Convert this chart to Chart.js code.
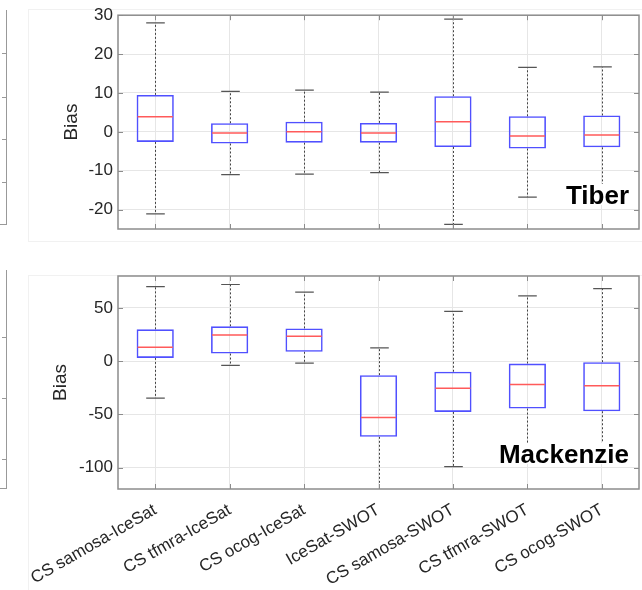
<!DOCTYPE html>
<html>
<head>
<meta charset="utf-8">
<script src="https://cdn.jsdelivr.net/npm/chart.js@4.4.1/dist/chart.umd.min.js"></script>
<style>
  body { margin: 0; background: #fff; }
  #wrap { position: relative; width: 642px; height: 590px; overflow: hidden; background: #fff; }
  canvas { position: absolute; left: 0; }
  .fig { position: absolute; border: 1px solid #f1f1f1; }
  .stub { position: absolute; border-right: 1.5px solid #999; border-bottom: 1.5px solid #999; }
  .stubtick { position: absolute; height: 1px; width: 5px; background: #999; }
</style>
</head>
<body>
<div id="wrap">
  <!-- faint figure frames and the cropped neighbour axes on the far left -->
  <div class="fig" style="left:28px; top:9px; width:620px; height:231px;"></div>
  <div class="fig" style="left:28px; top:275px; width:620px; height:330px;"></div>
  <div class="stub" style="left:-10px; top:10px; width:16px; height:214px;"></div>
  <div class="stub" style="left:-10px; top:270px; width:16px; height:218px;"></div>
  <div class="stubtick" style="left:2px; top:53px;"></div>
  <div class="stubtick" style="left:2px; top:97px;"></div>
  <div class="stubtick" style="left:2px; top:139px;"></div>
  <div class="stubtick" style="left:2px; top:182px;"></div>
  <div class="stubtick" style="left:2px; top:337px;"></div>
  <div class="stubtick" style="left:2px; top:398px;"></div>
  <div class="stubtick" style="left:2px; top:459px;"></div>

  <canvas id="tiber" width="642" height="250" style="top:0px;"></canvas>
  <canvas id="mack" width="642" height="340" style="top:250px;"></canvas>
</div>

<script>
const categories = [
    'CS samosa-IceSat',
    'CS tfmra-IceSat',
    'CS ocog-IceSat',
    'IceSat-SWOT',
    'CS samosa-SWOT',
    'CS tfmra-SWOT',
    'CS ocog-SWOT'
];

// Tiber (upper panel)
const tiberMin = [-21.1, -11.0, -10.9, -10.5, -23.8, -16.8, -17.0];
const tiberQ1  = [-2.6, -3.0, -2.8, -2.8, -3.9, -4.3, -4.0];
const tiberMed = [3.85, -0.3, 0.0, -0.3, 2.6, -1.1, -0.85];
const tiberQ3  = [9.5, 2.2, 2.6, 2.3, 9.15, 4.0, 4.2];
const tiberMax = [28.0, 10.4, 10.7, 10.2, 29.0, 16.6, 16.7];
const tiberTicks = [-20, -10, 0, 10, 20, 30];

// Mackenzie (lower panel)
const mackMin = [-34.6, -4.0, -1.9, -130, -99.0, -94.7, -95.0];
const mackQ1  = [3.1, 7.2, 8.8, -71.0, -47.6, -44.5, -47.0];
const mackMed = [13.1, 24.6, 23.4, -52.9, -25.5, -21.8, -23.0];
const mackQ3  = [29.9, 32.7, 30.8, -13.1, -9.9, -2.2, -0.9];
const mackMax = [70.1, 72.0, 64.8, 12.5, 46.7, 61.4, 68.2];
const mackTicks = [-100, -50, 0, 50];

const FONT = "'Liberation Sans', Arial, Helvetica, sans-serif";
const FRAME = '#8c8c8c';

// whiskers, caps, medians, box frame, inward ticks and river name
const boxExtras = {
    id: 'boxExtras',
    beforeDatasetsDraw(chart, args, o) {
        const ctx = chart.ctx, x = chart.scales.x, y = chart.scales.y, a = chart.chartArea;
        const half = chart.getDatasetMeta(0).data[0].width / 2;
        ctx.save();
        ctx.beginPath();
        ctx.rect(a.left, a.top, a.right - a.left, a.bottom - a.top);
        ctx.clip();
        for (let i = 0; i < categories.length; i++) {
            const px = Math.round(x.getPixelForValue(i)) + 0.5;
            ctx.strokeStyle = '#444';
            ctx.lineWidth = 1;
            ctx.setLineDash([2, 2]);
            ctx.beginPath();
            ctx.moveTo(px, y.getPixelForValue(o.q3[i]));
            ctx.lineTo(px, y.getPixelForValue(o.max[i]));
            ctx.moveTo(px, y.getPixelForValue(o.q1[i]));
            ctx.lineTo(px, y.getPixelForValue(o.min[i]));
            ctx.stroke();
            ctx.setLineDash([]);
            ctx.strokeStyle = '#555';
            ctx.lineWidth = 1.2;
            ctx.beginPath();
            [o.max[i], o.min[i]].forEach(v => {
                const py = y.getPixelForValue(v);
                ctx.moveTo(px - half / 2, py);
                ctx.lineTo(px + half / 2, py);
            });
            ctx.stroke();
        }
        ctx.restore();
    },
    afterDatasetsDraw(chart, args, o) {
        const ctx = chart.ctx, x = chart.scales.x, y = chart.scales.y, a = chart.chartArea;
        const half = chart.getDatasetMeta(0).data[0].width / 2;
        ctx.save();
        // medians
        ctx.strokeStyle = 'rgb(255,90,90)';
        ctx.lineWidth = 1.5;
        ctx.beginPath();
        for (let i = 0; i < categories.length; i++) {
            const px = x.getPixelForValue(i);
            const py = y.getPixelForValue(o.med[i]);
            ctx.moveTo(px - half + 1, py);
            ctx.lineTo(px + half - 1, py);
        }
        ctx.stroke();

        // matlab style ticks pointing inside
        ctx.strokeStyle = FRAME;
        ctx.lineWidth = 1;
        ctx.beginPath();
        y.ticks.forEach(t => {
            const py = Math.round(y.getPixelForValue(t.value)) + 0.5;
            ctx.moveTo(a.left, py); ctx.lineTo(a.left + 5, py);
            ctx.moveTo(a.right, py); ctx.lineTo(a.right - 5, py);
        });
        for (let i = 0; i < categories.length; i++) {
            const px = Math.round(x.getPixelForValue(i)) + 0.5;
            ctx.moveTo(px, a.bottom); ctx.lineTo(px, a.bottom - 5);
            ctx.moveTo(px, a.top); ctx.lineTo(px, a.top + 5);
        }
        ctx.stroke();

        // river name with white backing
        ctx.font = 'bold 26px ' + FONT;
        ctx.textAlign = 'right';
        ctx.textBaseline = 'alphabetic';
        const w = ctx.measureText(o.name).width;
        const bx = a.right - 10, by = a.bottom - o.nameLift;
        ctx.fillStyle = '#fff';
        ctx.fillRect(bx - w - 2, by - 20, w + 4, 21);
        ctx.fillStyle = '#000';
        ctx.fillText(o.name, bx, by);

        // axes box
        ctx.strokeStyle = FRAME;
        ctx.lineWidth = 1.5;
        ctx.strokeRect(a.left, a.top, a.right - a.left, a.bottom - a.top);
        ctx.restore();
    }
};

function makePanel(id, cfg) {
    const boxes = categories.map((c, i) => [cfg.q1[i], cfg.q3[i]]);
    return new Chart(document.getElementById(id), {
        type: 'bar',
        data: {
            labels: categories,
            datasets: [{
                data: boxes,
                backgroundColor: 'rgba(0,0,0,0)',
                borderColor: 'rgb(80,80,255)',
                borderWidth: 1.6,
                borderSkipped: false,
                barPercentage: 0.5,
                categoryPercentage: 1.0
            }]
        },
        options: {
            responsive: false,
            animation: false,
            devicePixelRatio: 1,
            layout: { padding: { top: cfg.padTop, right: 3, left: 0, bottom: 0 } },
            plugins: {
                legend: { display: false },
                tooltip: { enabled: false },
                boxExtras: {
                    min: cfg.min, q1: cfg.q1, med: cfg.med, q3: cfg.q3, max: cfg.max,
                    name: cfg.name, nameLift: cfg.nameLift
                }
            },
            scales: {
                x: {
                    offset: true,
                    grid: { offset: false, color: '#e6e6e6', drawTicks: false },
                    border: { display: false },
                    ticks: {
                        display: cfg.showLabels,
                        autoSkip: false,
                        minRotation: 30,
                        maxRotation: 30,
                        padding: 11,
                        color: '#262626',
                        font: { family: FONT, size: 17 }
                    },
                    afterFit: s => { s.height = cfg.xHeight; }
                },
                y: {
                    min: cfg.yMin,
                    max: cfg.yMax,
                    grid: { color: '#e6e6e6', drawTicks: false },
                    border: { display: false },
                    afterBuildTicks: s => { s.ticks = cfg.ticks.map(v => ({ value: v })); },
                    ticks: {
                        padding: 5,
                        color: '#262626',
                        font: { family: FONT, size: 17 }
                    },
                    title: {
                        display: true,
                        text: 'Bias',
                        color: '#262626',
                        font: { family: FONT, size: 19 },
                        padding: { top: cfg.titlePad, bottom: 0 }
                    },
                    afterFit: s => { s.width = 118; }
                }
            }
        },
        plugins: [boxExtras]
    });
}

makePanel('tiber', {
    min: tiberMin, q1: tiberQ1, med: tiberMed, q3: tiberQ3, max: tiberMax,
    ticks: tiberTicks, yMin: -25, yMax: 30,
    name: 'Tiber', nameLift: 25,
    padTop: 15, xHeight: 21, showLabels: false, titlePad: 60
});

makePanel('mack', {
    min: mackMin, q1: mackQ1, med: mackMed, q3: mackQ3, max: mackMax,
    ticks: mackTicks, yMin: -120, yMax: 80,
    name: 'Mackenzie', nameLift: 26,
    padTop: 26, xHeight: 101, showLabels: true, titlePad: 49
});
</script>
</body>
</html>
